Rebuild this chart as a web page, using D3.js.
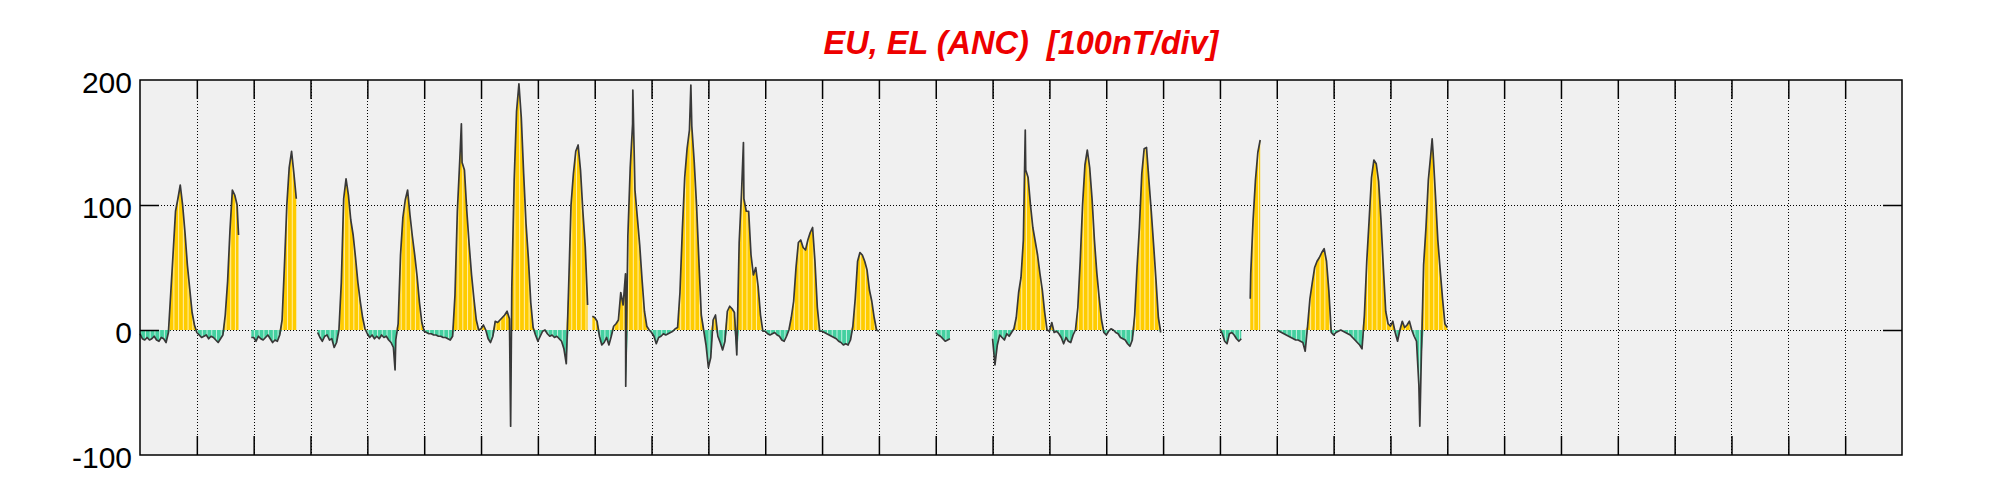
<!doctype html>
<html lang="en">
<head>
<meta charset="utf-8">
<title>EU, EL (ANC) [100nT/div]</title>
<script src="https://cdn.jsdelivr.net/npm/d3@7"></script>
<style>
  body { margin: 0; background: #fff; }
  svg { display: block; font-family: "Liberation Sans", Arial, Helvetica, sans-serif; }
</style>
</head>
<body>
<script>
// EU / EL at ANC, hourly values in nT, one row per day (_ = no data)
var _ = null;
var days = [
  [-3,-7,-8,-6,-8,-7,-5,-8,-9,-6,-7,-10, -2,30,62,95,105,116,100,78,52,33,14,4],
  [-2,-4,-6,-5,-4,-7,-5,-6,-8,-10,-7,-4, 12,39,80,112,108,100,_,_,_,_,_,-6],
  [-6,-9,-5,-7,-8,-6,-4,-7,-10,-8,-9,-4, 8,52,100,130,143,125,105,_,_,_,_,_],
  [_,_,_,-2,-6,-9,-5,-4,-8,-7,-14,-10, 0,38,105,121,108,88,76,58,38,23,10,1],
  [-3,-6,-4,-7,-5,-7,-4,-6,-5,-8,-10,-14, -8,5,60,90,104,112,92,75,60,43,22,6],
  [-1,-2,-3,-3,-4,-4,-5,-5,-6,-6,-7,-8, -5,28,95,135,134,128,95,68,44,25,8,0],
  [1,4,0,-7,-10,-5,7,6,8,10,12,15, 9,35,120,175,197,170,125,85,57,22,2,-4],
  [-9,-5,-1,0,-3,-5,-4,-6,-5,-7,-9,-15, -27,35,100,125,143,148,128,95,67,20,_,11],
  [10,7,-5,-12,-10,-6,-12,-5,3,5,8,30, 20,45,75,130,165,112,90,68,40,15,3,0],
  [-2,-5,-11,-6,-5,-3,-4,-3,-2,-1,1,2, 30,80,122,145,160,163,135,100,55,12,0,-12],
  [-30,-22,8,12,-5,-10,-16,-9,15,19,17,14, -20,70,110,105,95,95,60,44,50,35,12,-1],
  [-1,-3,-4,-3,-2,-4,-5,-8,-9,-5,0,10, 23,50,70,72,66,64,72,78,82,55,18,-1],
  [-1,-2,-3,-4,-5,-6,-7,-9,-10,-12,-11,-12, -8,3,25,55,62,60,55,48,32,23,10,0],
  [-1,_,_,_,_,_,_,_,_,_,_,_, _,_,_,_,_,_,_,_,_,_,_,_],
  [-2,-4,-5,-7,-9,-8,-7,_,_,_,_,_, _,_,_,_,_,_,_,_,_,_,_,_],
  [-7,-28,-12,-4,-6,-8,-3,-5,-2,1,10,30, 42,72,128,122,100,82,71,60,45,32,14,0],
  [-1,6,-2,-1,-3,-6,-11,-6,-9,-10,-4,0, 18,55,100,132,144,130,105,72,46,26,8,-2],
  [-4,-1,1,0,-2,-3,-6,-7,-8,-11,-13,-8, 12,50,82,125,145,146,120,95,68,40,10,-2],
  [_,_,_,_,_,_,_,_,_,_,_,_, _,_,_,_,_,_,_,_,_,_,_,_],
  [1,-3,-9,-11,-3,-2,-4,-7,-9,-7,_,_, _,45,88,120,142,152,_,_,_,_,_,_],
  [0,-1,-2,-3,-4,-5,-6,-7,-8,-8,-9,-10, -17,3,25,38,50,55,58,62,65,55,31,-2],
  [-4,-2,-1,0,-1,-2,-3,-4,-6,-8,-10,-12, -15,12,55,88,122,136,133,119,88,50,15,5],
  [3,7,-2,-9,0,7,2,4,7,0,-5,-9, -44,-25,52,82,120,140,142,108,72,48,25,5],
  [2]
];
// sharp excursions between the hourly samples: [hour of month, nT]
var spikes = [
  [41.6, 76], [107.7, -32], [135.7, 165], [156.5, -77], [205.1, -45], [208.1, 192],
  [232.6, 196], [254.8, 150], [373.8, 160], [468.8, 25], [540.4, -77], [545.6, 153]
];
var nDays = 31;
var yTicks = [-100, 0, 100, 200];
var yGrid = [0, 100];
var title = "EU, EL (ANC)  [100nT/div]";

var W = 2001, H = 500;
var pLeft = 140, pRight = 1902, pTop = 80, pBottom = 455;

var series = [];
days.forEach(function(row, d) {
  row.forEach(function(v, h) { series.push({t: d * 24 + h, v: v}); });
});
spikes.forEach(function(s) { series.push({t: s[0], v: s[1]}); });
series.sort(function(a, b) { return a.t - b.t; });

var x = d3.scaleLinear().domain([0, nDays * 24]).range([pLeft, pRight]);
var y = d3.scaleLinear().domain([-100, 200]).range([pBottom, pTop]);
var dayHours = d3.range(1, nDays).map(function(d) { return d * 24; });

var svg = d3.select("body").append("svg")
    .attr("width", W)
    .attr("height", H);

svg.append("rect")
    .attr("x", pLeft).attr("y", pTop)
    .attr("width", pRight - pLeft).attr("height", pBottom - pTop)
    .attr("fill", "#f0f0f0");

// dotted grid
var grid = svg.append("g").attr("stroke", "#000").attr("stroke-width", 1).attr("stroke-dasharray", "1,2");
grid.selectAll(".gx").data(dayHours).join("line")
    .attr("x1", function(d) { return Math.round(x(d)) + 0.5; })
    .attr("x2", function(d) { return Math.round(x(d)) + 0.5; })
    .attr("y1", pTop).attr("y2", pBottom);
grid.selectAll(".gy").data(yGrid).join("line")
    .attr("x1", pLeft).attr("x2", pRight)
    .attr("y1", function(d) { return Math.round(y(d)) + 0.5; })
    .attr("y2", function(d) { return Math.round(y(d)) + 0.5; });

var defined = function(d) { return d.v !== null; };
var areaPos = d3.area().defined(defined)
    .x(function(d) { return x(d.t); })
    .y0(y(0))
    .y1(function(d) { return y(Math.max(d.v, 0)); });
var areaNeg = d3.area().defined(defined)
    .x(function(d) { return x(d.t); })
    .y0(y(0))
    .y1(function(d) { return y(Math.min(d.v, 0)); });
var line = d3.line().defined(defined)
    .x(function(d) { return x(d.t); })
    .y(function(d) { return y(d.v); });

svg.append("path").attr("d", areaPos(series)).attr("fill", "#ffcc00");
svg.append("path").attr("d", areaNeg(series)).attr("fill", "#44d0a0");

// thin white stripes inside the filled areas
var clip = svg.append("clipPath").attr("id", "fillclip");
clip.append("path").attr("d", areaPos(series));
clip.append("path").attr("d", areaNeg(series));
var stripeHours = d3.range(0.3, days.length * 24, 2);
svg.append("g").attr("clip-path", "url(#fillclip)")
  .selectAll("line").data(stripeHours).join("line")
    .attr("x1", function(d) { return x(d); })
    .attr("x2", function(d) { return x(d); })
    .attr("y1", pTop).attr("y2", pBottom)
    .attr("stroke", "#fff").attr("stroke-opacity", 0.75).attr("stroke-width", 0.9);

svg.append("path")
    .attr("d", line(series))
    .attr("fill", "none")
    .attr("stroke", "#383838")
    .attr("stroke-width", 1.7)
    .attr("stroke-linejoin", "round");

// inner tick marks on all four sides
var tickLen = 19;
svg.append("g").attr("transform", "translate(0," + pBottom + ")")
    .call(d3.axisBottom(x).tickValues(dayHours).tickSize(-tickLen).tickFormat(""))
    .call(function(g) { g.select(".domain").remove(); });
svg.append("g").attr("transform", "translate(0," + pTop + ")")
    .call(d3.axisTop(x).tickValues(dayHours).tickSize(-tickLen).tickFormat(""))
    .call(function(g) { g.select(".domain").remove(); });
svg.append("g").attr("transform", "translate(" + pRight + ",0)")
    .call(d3.axisRight(y).tickValues(yGrid).tickSize(-tickLen).tickFormat(""))
    .call(function(g) { g.select(".domain").remove(); });
var yAxis = svg.append("g").attr("transform", "translate(" + pLeft + ",0)")
    .call(d3.axisLeft(y).tickValues(yTicks).tickSize(-tickLen).tickPadding(8).tickFormat(String))
    .call(function(g) { g.select(".domain").remove(); });
yAxis.selectAll("line").filter(function(d) { return d === 200 || d === -100; }).remove();
yAxis.selectAll("text")
    .attr("font-size", 30)
    .attr("font-family", "\"Liberation Sans\", Arial, Helvetica, sans-serif")
    .attr("fill", "#000")
    .attr("dy", "0.43em");
svg.selectAll(".tick line").attr("stroke", "#000").attr("stroke-width", 1.5);

svg.append("rect")
    .attr("x", pLeft).attr("y", pTop)
    .attr("width", pRight - pLeft).attr("height", pBottom - pTop)
    .attr("fill", "none")
    .attr("stroke", "#000")
    .attr("stroke-width", 1.5);

svg.append("text")
    .attr("x", (pLeft + pRight) / 2)
    .attr("y", 54)
    .attr("text-anchor", "middle")
    .attr("font-size", 32.5)
    .attr("font-weight", "bold")
    .attr("font-style", "italic")
    .attr("fill", "#ee0000")
    .style("white-space", "pre")
    .text(title);
</script>
</body>
</html>
